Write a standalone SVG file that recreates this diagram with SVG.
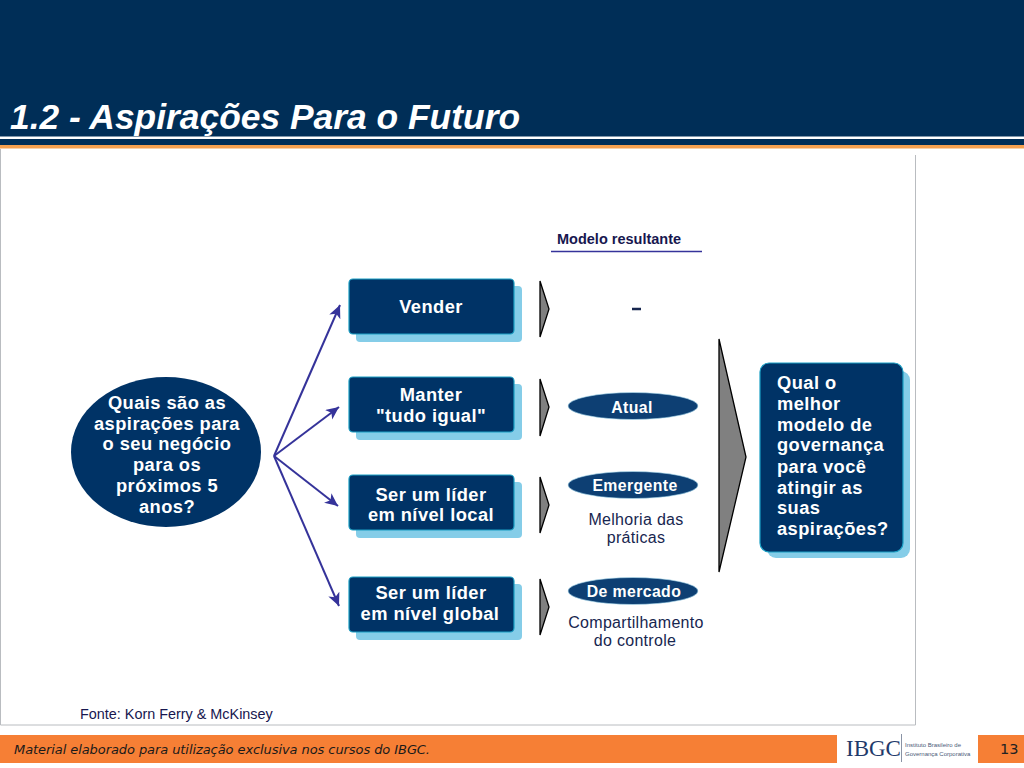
<svg xmlns="http://www.w3.org/2000/svg" width="1024" height="768" viewBox="0 0 1024 768">
<style>
text{font-family:"Liberation Sans",Arial,sans-serif}
.w{fill:#fff;font-weight:bold;font-size:18.300px;letter-spacing:.45px;text-anchor:middle}
.sh{fill:#85cde8}
.bx{fill:#003366;stroke:#1a9fc4;stroke-width:1.2}
.tri{fill:#808080;stroke:#000;stroke-width:1.3}
.el{fill:#0d3f73;stroke:#b5e3f3;stroke-width:.6}
.e{fill:#fff;font-weight:bold;font-size:15.800px;letter-spacing:.4px;text-anchor:middle}
.g{fill:#17264f;font-size:16px;letter-spacing:.3px;text-anchor:middle}
.c{stroke:#35339a;stroke-width:2;fill:none;marker-end:url(#a)}
</style>
<defs><marker id="a" markerUnits="userSpaceOnUse" markerWidth="16" markerHeight="14" refX="13" refY="6" orient="auto"><path d="M0 0L13 6L0 12L3.5 6Z" fill="#35339a"/></marker></defs>
<rect width="1024" height="768" fill="#fff"/>
<g id="header">
<rect width="1024" height="146" fill="#002e57"/>
<rect y="136.500" width="1024" height="2.500" fill="#fff"/>
<rect y="145" width="1024" height="3.500" fill="#f5a04f"/>
<text x="10" y="129" font-size="35.400" font-weight="bold" font-style="italic" fill="#fff">1.2 - Aspirações Para o Futuro</text>
</g>
<path d="M.5 149V725H915.500V155" fill="none" stroke="#b9bcc0" stroke-width="1"/>
<g id="connectors">
<path class="c" d="M274 456L340 305"/>
<path class="c" d="M274 456L339 407"/>
<path class="c" d="M274 456L338 506"/>
<path class="c" d="M274 456L339 606"/>
</g>
<g id="q-left">
<ellipse cx="166" cy="452" rx="95" ry="75" fill="#003366"/>
<text class="w"><tspan x="167" y="409">Quais são as</tspan><tspan x="167" y="430">aspirações para</tspan><tspan x="167" y="450">o seu negócio</tspan><tspan x="167" y="471">para os</tspan><tspan x="167" y="492">próximos 5</tspan><tspan x="167" y="513">anos?</tspan></text>
</g>
<g id="vender"><rect class="sh" x="356" y="286" width="166" height="56" rx="4"/><rect class="bx" x="349" y="279" width="165" height="55" rx="4"/><text class="w" x="431" y="313">Vender</text></g>
<g id="manter"><rect class="sh" x="356" y="384" width="166" height="56" rx="4"/><rect class="bx" x="349" y="377" width="165" height="55" rx="4"/><text class="w"><tspan x="431" y="401">Manter</tspan><tspan x="431" y="422">"tudo igual"</tspan></text></g>
<g id="local"><rect class="sh" x="356" y="482" width="166" height="56" rx="4"/><rect class="bx" x="349" y="475" width="165" height="55" rx="4"/><text class="w"><tspan x="431" y="501">Ser um líder</tspan><tspan x="431" y="521">em nível local</tspan></text></g>
<g id="global"><rect class="sh" x="356" y="584" width="166" height="56" rx="4"/><rect class="bx" x="349" y="577" width="165" height="55" rx="4"/><text class="w"><tspan x="431" y="599">Ser um líder</tspan><tspan x="430" y="620">em nível global</tspan></text></g>
<g id="arrows">
<path class="tri" d="M540 281L549 309L540 337Z"/>
<path class="tri" d="M540 379L549 407L540 436Z"/>
<path class="tri" d="M540 477L549 505L540 533Z"/>
<path class="tri" d="M540 579L549 607L540 635Z"/>
<path class="tri" d="M719 339L746 457L719 572Z"/>
</g>
<g id="modelo">
<text x="557" y="244" font-size="14.500" font-weight="bold" fill="#17174f">Modelo resultante</text>
<path d="M551 251.500H702" stroke="#35339a" stroke-width="1.300"/>
<path d="M632 309H641" stroke="#17264f" stroke-width="2.500"/>
</g>
<g id="atual"><ellipse class="el" cx="633" cy="406" rx="65" ry="13.500"/><text class="e" x="632" y="413">Atual</text></g>
<g id="emergente"><ellipse class="el" cx="633" cy="485" rx="65" ry="13.500"/><text class="e" x="635" y="491">Emergente</text><text class="g"><tspan x="636" y="525">Melhoria das</tspan><tspan x="636" y="543">práticas</tspan></text></g>
<g id="mercado"><ellipse class="el" cx="633" cy="591" rx="65" ry="13.500"/><text class="e" x="634" y="597">De mercado</text><text class="g"><tspan x="636" y="628">Compartilhamento</tspan><tspan x="635" y="646">do controle</tspan></text></g>
<g id="q-right">
<rect class="sh" x="767" y="371" width="143" height="187" rx="9"/>
<rect x="760" y="363" width="143" height="189" rx="9" fill="#003366" stroke="#1a9fc4" stroke-width="1.200"/>
<text class="w" style="text-anchor:start"><tspan x="777" y="389">Qual o</tspan><tspan x="777" y="410">melhor</tspan><tspan x="777" y="431">modelo de</tspan><tspan x="777" y="451">governança</tspan><tspan x="777" y="473">para você</tspan><tspan x="777" y="494">atingir as</tspan><tspan x="777" y="514">suas</tspan><tspan x="777" y="535">aspirações?</tspan></text>
</g>
<text x="80" y="719" font-size="14.400" fill="#17174f">Fonte: Korn Ferry &amp; McKinsey</text>
<g id="footer">
<rect y="735" width="837" height="28" fill="#f67f35"/>
<rect x="978" y="735" width="46" height="28" fill="#f67f35"/>
<text x="14" y="754" font-size="13" font-style="italic" fill="#1a1a1a" style="font-family:'DejaVu Sans',sans-serif" textLength="416">Material elaborado para utilização exclusiva nos cursos do IBGC.</text>
<text x="846" y="756" font-size="23" fill="#1f3a6b" style="font-family:'Liberation Serif',serif">IBGC</text>
<path d="M901.500 734V762" stroke="#8a93a5" stroke-width="1"/>
<text font-size="6" fill="#4a5a78"><tspan x="905" y="747">Instituto Brasileiro de</tspan><tspan x="905" y="756">Governança Corporativa</tspan></text>
<text x="1000" y="754" font-size="14.500" fill="#222" style="font-family:'DejaVu Sans',sans-serif">13</text>
</g>
</svg>
